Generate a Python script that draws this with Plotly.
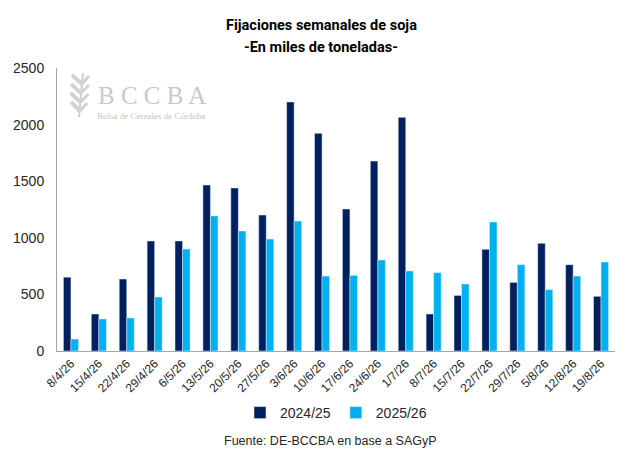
import plotly.graph_objects as go

categories = ["8/4/26", "15/4/26", "22/4/26", "29/4/26", "6/5/26", "13/5/26", "20/5/26",
              "27/5/26", "3/6/26", "10/6/26", "17/6/26", "24/6/26", "1/7/26", "8/7/26",
              "15/7/26", "22/7/26", "29/7/26", "5/8/26", "12/8/26", "19/8/26"]
s2425 = [652, 327, 636, 972, 972, 1466, 1440, 1201, 2200, 1923, 1254, 1678, 2064, 327,
         491, 898, 606, 951, 763, 483]
s2526 = [106, 283, 292, 477, 901, 1193, 1060, 989, 1148, 662, 668, 804, 707, 692,
         592, 1140, 763, 542, 662, 786]
name_a = "2024/25"
name_b = "2025/26"
y_ticks = [0, 500, 1000, 1500, 2000, 2500]

W, H = 640, 459
L, R, T, B = 57, 25, 68, 108
PW, PH = W - L - R, H - T - B

def px(x):
    return (x - L) / PW

def py(y):
    return (H - B - y) / PH

fig = go.Figure()
fig.add_bar(x=categories, y=s2425, name=name_a, marker_color="#002060")
fig.add_bar(x=categories, y=s2526, name=name_b, marker_color="#00B0F0")

fig.update_layout(
    width=W, height=H,
    margin=dict(l=L, r=R, t=T, b=B, autoexpand=False),
    paper_bgcolor="white", plot_bgcolor="white",
    barmode="group", bargap=0.46, bargroupgap=0,
    font=dict(family="Liberation Sans, Arial, sans-serif", color="#262626"),
    legend=dict(orientation="h", x=px(336), xanchor="center", y=py(413), yanchor="middle",
                font=dict(size=14, color="#262626"), itemwidth=30, traceorder="normal"),
    showlegend=True,
)
fig.update_xaxes(showline=True, linecolor="#a6a6a6", linewidth=1, showgrid=False, automargin=False,
                 tickangle=-45, tickfont=dict(size=12, color="#262626"), ticks="")
fig.update_yaxes(range=[0, 2500], tickvals=y_ticks, showline=True, linecolor="#a6a6a6",
                 linewidth=1, showgrid=False, zeroline=False, automargin=False,
                 ticks="outside", ticklen=9, tickcolor="rgba(0,0,0,0)",
                 tickfont=dict(size=14, color="#262626"))

# title (two lines)
for txt, yy in [("<b>Fijaciones semanales de soja</b>", 25), ("<b>-En miles de toneladas-</b>", 48)]:
    fig.add_annotation(xref="paper", yref="paper", x=px(321), y=py(yy), xanchor="center",
                       yanchor="middle", text=txt, showarrow=False,
                       font=dict(family="Roboto, Liberation Sans, sans-serif", size=14.5, color="#000000"))

# watermark
fig.add_annotation(xref="paper", yref="paper", x=px(96), y=py(95), xanchor="left", yanchor="middle",
                   text="B C C B A", showarrow=False,
                   font=dict(family="Liberation Serif, DejaVu Serif, serif", size=25, color="#c9c9c9"))
fig.add_annotation(xref="paper", yref="paper", x=px(95), y=py(116), xanchor="left", yanchor="middle",
                   text="Bolsa de Cereales de Córdoba", showarrow=False,
                   font=dict(family="Liberation Serif, DejaVu Serif, serif", size=9, color="#c4c4c4"))
# wheat sprig icon (decoration)
fig.add_shape(type="line", xref="paper", yref="paper", x0=px(79), y0=py(117), x1=px(83), y1=py(73),
              line=dict(color="#cfcfcf", width=2))
for (sx, sy, lx, rx) in [(82, 84, 10, 7), (81, 93, 10, 8), (80.5, 102, 10, 8), (80, 111, 9, 7)]:
    fig.add_shape(type="line", xref="paper", yref="paper", x0=px(sx), y0=py(sy),
                  x1=px(sx - lx), y1=py(sy - 9), line=dict(color="#d2d2d2", width=4))
    fig.add_shape(type="line", xref="paper", yref="paper", x0=px(sx), y0=py(sy),
                  x1=px(sx + rx), y1=py(sy - 8), line=dict(color="#d2d2d2", width=3))

fig.add_annotation(xref="paper", yref="paper", x=px(330), y=py(441), xanchor="center", yanchor="middle",
                   text="Fuente: DE-BCCBA en base a SAGyP", showarrow=False,
                   font=dict(size=12.5, color="#262626"))

fig.write_html("out.html", config={"displayModeBar": False},
               post_script="document.body.style.margin='0';document.body.style.overflow='hidden';")
